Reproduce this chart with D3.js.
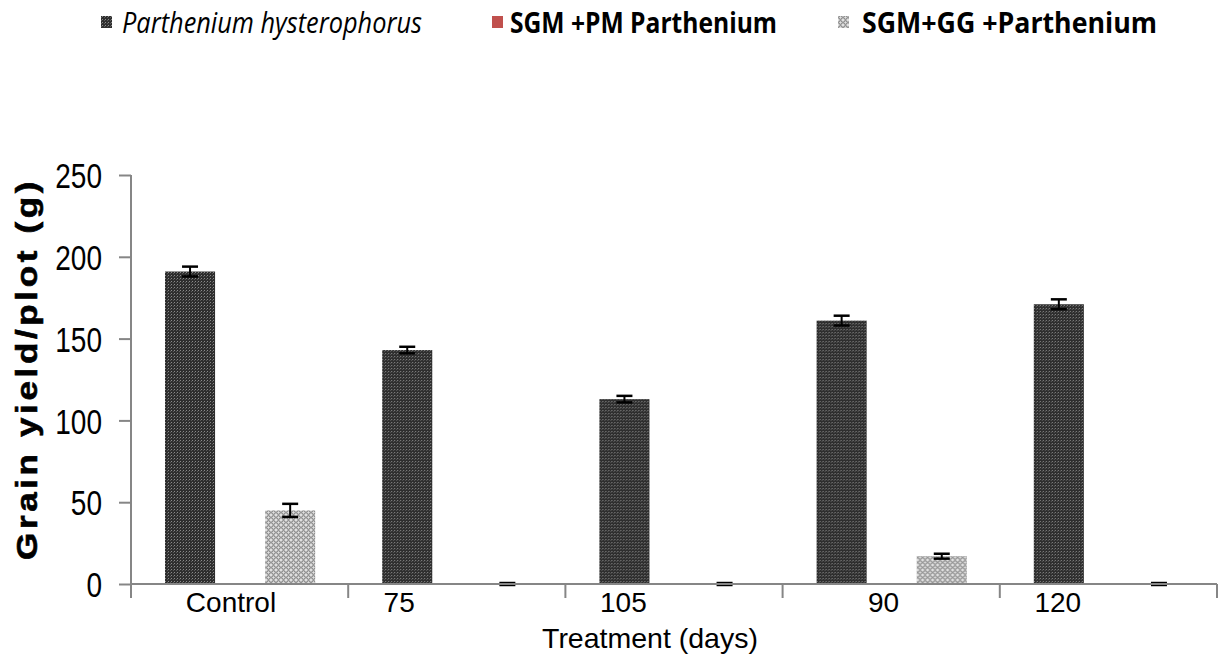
<!DOCTYPE html>
<html>
<head>
<meta charset="utf-8">
<script src="https://cdn.jsdelivr.net/npm/d3@7"></script>
<style>
  body { margin: 0; background: #fff; }
</style>
</head>
<body>
<div id="chart"></div>
<script>
// data
var categories = ["Control", "75", "105", "90", "120"]
var seriesNames = ["Parthenium hysterophorus", "SGM +PM Parthenium", "SGM+GG +Parthenium"]
var parthenium = [191, 143, 113, 161, 171]
var parthErr = [3, 2, 2, 3, 3]
var sgmPm = [0, 0, 0, 0, 0]
var sgmPmErr = [0, 0, 0, 0, 0]
var sgmGg = [45, 0, 0, 17, 0]
var sgmGgErr = [4, 0.6, 0.6, 1.5, 0.6]
var yTicks = [0, 50, 100, 150, 200, 250]

let margin = {top: 175, right: 5, bottom: 76, left: 131},
    width = 1222 - margin.left - margin.right,
    height = 660 - margin.top - margin.bottom;

const root = d3.select('#chart')
    .append("svg")
    .attr("width", 1222)
    .attr("height", 660)

// fill patterns for the bars
var defs = root.append("defs")
var pd = defs.append("pattern").attr("id", "darkPat")
    .attr("width", 3).attr("height", 3).attr("patternUnits", "userSpaceOnUse")
pd.append("rect").attr("width", 3).attr("height", 3).attr("fill", "#2e2e2e")
pd.append("rect").attr("x", 1).attr("y", 1).attr("width", 1).attr("height", 1).attr("fill", "#8a8a8a")
pd.append("rect").attr("x", 0).attr("y", 2).attr("width", 1).attr("height", 1).attr("fill", "#5a5a5a")

var pg = defs.append("pattern").attr("id", "grayPat")
    .attr("width", 5).attr("height", 5).attr("patternUnits", "userSpaceOnUse")
pg.append("rect").attr("width", 5).attr("height", 5).attr("fill", "#e0e0e0")
pg.append("circle").attr("cx", 2.5).attr("cy", 2.5).attr("r", 1.8)
    .attr("fill", "none").attr("stroke", "#6e6e6e").attr("stroke-width", 1)

var fills = ["url(#darkPat)", "#C0504D", "url(#grayPat)"]

const svg = root.append("g")
    .attr("transform", "translate(" + margin.left + "," + margin.top + ")");

var rows = categories.map(function(c, i) {
    return {
        cat: c,
        vals: [
            {key: seriesNames[0], value: parthenium[i], err: parthErr[i], s: 0},
            {key: seriesNames[1], value: sgmPm[i], err: sgmPmErr[i], s: 1},
            {key: seriesNames[2], value: sgmGg[i], err: sgmGgErr[i], s: 2}
        ]
    }
})

var x = d3.scaleBand()
    .domain(categories)
    .range([0, width])
    .paddingInner(0)
    .paddingOuter(0)

var y = d3.scaleLinear()
    .domain([0, 250])
    .range([height, 0])

var xSub = d3.scaleBand()
    .domain(seriesNames)
    .range([34, x.bandwidth() - 33])

// bars
var groups = svg.append("g")
    .selectAll("g")
    .data(rows)
    .enter().append("g")
    .attr("transform", function(d) { return "translate(" + x(d.cat) + ",0)"; })

groups.selectAll("rect")
    .data(function(d) { return d.vals; })
    .enter().append("rect")
    .attr("x", function(d) { return xSub(d.key); })
    .attr("y", function(d) { return y(d.value); })
    .attr("width", xSub.bandwidth())
    .attr("height", function(d) { return height - y(d.value); })
    .attr("fill", function(d) { return fills[d.s]; })

// error bars (not for the empty red series)
var eb = groups.selectAll(".err")
    .data(function(d) { return d.vals.filter(function(v) { return v.s != 1; }); })
    .enter().append("g")
    .attr("class", "err")
    .attr("transform", function(d) { return "translate(" + (xSub(d.key) + xSub.bandwidth() / 2) + ",0)"; })
eb.append("line")
    .attr("y1", function(d) { return y(d.value + d.err); })
    .attr("y2", function(d) { return y(d.value - d.err); })
    .attr("stroke", "#000").attr("stroke-width", 2)
eb.selectAll(".cap")
    .data(function(d) { return [d.value + d.err, d.value - d.err]; })
    .enter().append("line")
    .attr("x1", -8).attr("x2", 8)
    .attr("y1", function(v) { return y(v); })
    .attr("y2", function(v) { return y(v); })
    .attr("stroke", "#000").attr("stroke-width", 2.5)

// Y axis
var yAxis = svg.append("g")
    .call(d3.axisLeft(y).tickValues(yTicks).tickSize(12).tickPadding(0))
yAxis.select(".domain").attr("stroke", "#868686").attr("stroke-width", 2)
    .attr("d", "M0,0V" + (height + 14))
yAxis.selectAll(".tick line").attr("stroke", "#868686").attr("stroke-width", 2)
// tall narrow digits like the original
yAxis.selectAll("text")
    .attr("x", 0)
    .attr("dy", "0.36em")
    .attr("transform", "translate(-29,0) scale(0.8,1)")
    .style("font-family", "Liberation Sans, Arial, sans-serif")
    .style("font-size", "35px")
    .attr("fill", "#000")

// X axis
var xAxisG = svg.append("g")
    .attr("transform", "translate(0," + height + ")")
xAxisG.append("line")
    .attr("x1", 0).attr("x2", width)
    .attr("stroke", "#868686").attr("stroke-width", 2)
xAxisG.selectAll(".xt")
    .data(categories)
    .enter().append("line")
    .attr("x1", function(d) { return x(d) + x.bandwidth(); })
    .attr("x2", function(d) { return x(d) + x.bandwidth(); })
    .attr("y1", 0).attr("y2", 14)
    .attr("stroke", "#868686").attr("stroke-width", 2)

// labels are not centred in the original, each sits a bit differently
var labelMid = [100, 51, 58, 101, 58]
xAxisG.selectAll(".xl")
    .data(categories)
    .enter().append("text")
    .attr("x", function(d, i) { return x(d) + labelMid[i]; })
    .attr("y", 28)
    .attr("text-anchor", "middle")
    .style("font-family", "Liberation Sans, Arial, sans-serif")
    .style("font-size", "28px")
    .text(function(d) { return d; })

// x-axis title
svg.append("text")
    .attr("x", 650 - margin.left)
    .attr("y", height + 64)
    .attr("text-anchor", "middle")
    .style("font-family", "Liberation Sans, Arial, sans-serif")
    .style("font-size", "28.5px")
    .text("Treatment (days)")

// y-axis title, wide heavy letters
svg.append("text")
    .attr("transform", "rotate(-90)")
    .attr("x", -(369 - margin.top) - 191)
    .attr("y", 37 - margin.left)
    .attr("textLength", 382)
    .attr("lengthAdjust", "spacingAndGlyphs")
    .style("font-family", "Liberation Sans, Arial, sans-serif")
    .style("font-size", "29px")
    .style("font-weight", "bold")
    .style("letter-spacing", "3px")
    .style("stroke", "#000")
    .style("stroke-width", "0.6px")
    .text("Grain yield/plot (g)")

// legend
var legendX = [101, 492, 838]
var legendTextX = [21, 18, 24]
var legendTextW = [300, 267, 295]
var legend = root.selectAll(".legend")
    .data(seriesNames)
    .enter().append("g")
    .attr("class", "legend")
    .attr("transform", function(d, i) { return "translate(" + legendX[i] + ",0)"; })
legend.append("rect")
    .attr("y", 16)
    .attr("width", 11).attr("height", 12)
    .attr("fill", function(d, i) { return fills[i]; })
legend.append("text")
    .attr("x", function(d, i) { return legendTextX[i]; })
    .attr("y", 33)
    .attr("textLength", function(d, i) { return legendTextW[i]; })
    .attr("lengthAdjust", "spacingAndGlyphs")
    .style("font-family", "Open Sans, sans-serif")
    .style("font-size", "29px")
    .style("font-style", function(d, i) { return i == 0 ? "italic" : "normal"; })
    .style("font-weight", function(d, i) { return i == 0 ? "normal" : "bold"; })
    .text(function(d) { return d; })
</script>
</body>
</html>
